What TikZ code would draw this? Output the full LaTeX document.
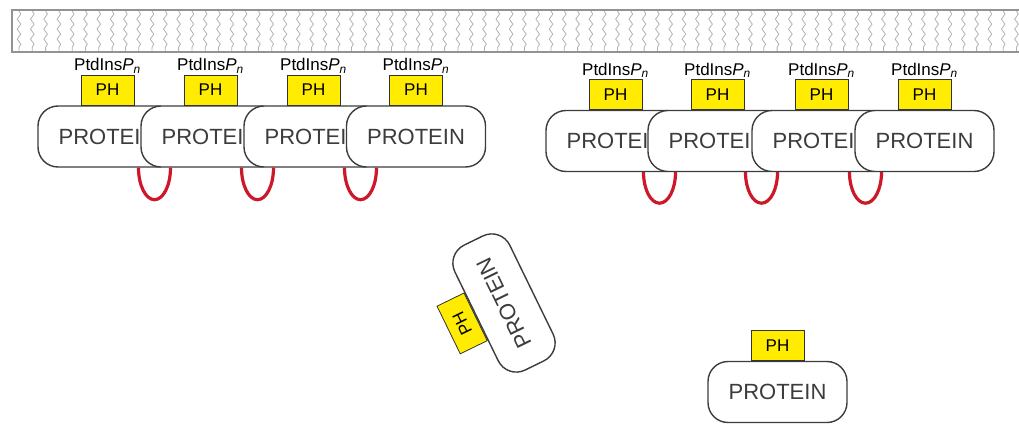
\documentclass[tikz,border=0pt]{standalone}
\usepackage{fontspec}
\setmainfont{Liberation Sans}
\usetikzlibrary{decorations.pathmorphing}

\definecolor{phyellow}{RGB}{255,236,0}
\definecolor{loopred}{RGB}{204,24,40}
\definecolor{protline}{RGB}{60,60,60}

\tikzset{
  protein/.style={draw=protline, line width=1.4pt, fill=white, rounded corners=20pt,
    minimum width=139pt, minimum height=61pt, inner sep=0pt, text=protline,
    font=\fontsize{22}{24}\selectfont},
  phbox/.style={draw=black!80, line width=0.8pt, fill=phyellow, minimum width=53pt,
    minimum height=30pt, inner sep=0pt, anchor=south, font=\fontsize{17}{19}\selectfont},
  lipidlabel/.style={anchor=south, inner sep=1pt, font=\fontsize{17}{19}\selectfont},
  redloop/.style={draw=loopred, line width=3.2pt},
  lipid/.style={gray!60, line width=0.8pt, decorate,
    decoration={snake, segment length=10pt, amplitude=1.8pt}}
}

\begin{document}
\begin{tikzpicture}[x=1pt, y=-1pt]
            \useasboundingbox (0,0) rectangle (1019,423);

            % membrane
            \foreach \x in {19,32.3,...,1019}
              \draw[lipid] (\x,11) -- (\x,51);
            \draw[gray!85, line width=1.2pt] (1019,10) -- (12,10) -- (12,52) -- (1019,52);

            % left cluster
            \node[protein] (pA1) at (107.5,136.5) {PROTEIN};
            \node[protein] (pA2) at (210.5,136.5) {PROTEIN};
            \node[protein] (pA3) at (313.5,136.5) {PROTEIN};
            \node[protein] (pA4) at (416,136.5) {PROTEIN};

            \node[phbox] (hA1) at (pA1.north) {PH};
            \node[phbox] (hA2) at (pA2.north) {PH};
            \node[phbox] (hA3) at (pA3.north) {PH};
            \node[phbox] (hA4) at (pA4.north) {PH};

            \node[lipidlabel] (lA1) at (hA1.north) {PtdIns\textit{P}\textsubscript{\textit{n}}};
            \node[lipidlabel] (lA2) at (hA2.north) {PtdIns\textit{P}\textsubscript{\textit{n}}};
            \node[lipidlabel] (lA3) at (hA3.north) {PtdIns\textit{P}\textsubscript{\textit{n}}};
            \node[lipidlabel] (lA4) at (hA4.north) {PtdIns\textit{P}\textsubscript{\textit{n}}};

            \draw[redloop] ([xshift=63pt]pA1.south) arc[start angle=0, end angle=-180, x radius=16pt, y radius=32pt];
            \draw[redloop] ([xshift=63pt]pA2.south) arc[start angle=0, end angle=-180, x radius=16pt, y radius=32pt];
            \draw[redloop] ([xshift=63pt]pA3.south) arc[start angle=0, end angle=-180, x radius=16pt, y radius=32pt];

            % right cluster
            \node[protein] (pB1) at (615.5,141) {PROTEIN};
            \node[protein] (pB2) at (717.5,141) {PROTEIN};
            \node[protein] (pB3) at (821.5,141) {PROTEIN};
            \node[protein] (pB4) at (924.5,141) {PROTEIN};

            \node[phbox] (hB1) at (pB1.north) {PH};
            \node[phbox] (hB2) at (pB2.north) {PH};
            \node[phbox] (hB3) at (pB3.north) {PH};
            \node[phbox] (hB4) at (pB4.north) {PH};

            \node[lipidlabel] (lB1) at (hB1.north) {PtdIns\textit{P}\textsubscript{\textit{n}}};
            \node[lipidlabel] (lB2) at (hB2.north) {PtdIns\textit{P}\textsubscript{\textit{n}}};
            \node[lipidlabel] (lB3) at (hB3.north) {PtdIns\textit{P}\textsubscript{\textit{n}}};
            \node[lipidlabel] (lB4) at (hB4.north) {PtdIns\textit{P}\textsubscript{\textit{n}}};

            \draw[redloop] ([xshift=60pt]pB1.south) arc[start angle=0, end angle=-180, x radius=16pt, y radius=31pt];
            \draw[redloop] ([xshift=60pt]pB2.south) arc[start angle=0, end angle=-180, x radius=16pt, y radius=31pt];
            \draw[redloop] ([xshift=60pt]pB3.south) arc[start angle=0, end angle=-180, x radius=16pt, y radius=31pt];

            % free proteins
            \node[protein, rotate=116] (pT) at (504,303) {PROTEIN};
            \node[phbox, rotate=116] (hT) at (pT.north) {PH};

            \node[protein] (pC) at (777.5,392) {PROTEIN};
            \node[phbox] (hC) at (pC.north) {PH};
\end{tikzpicture}
\end{document}
